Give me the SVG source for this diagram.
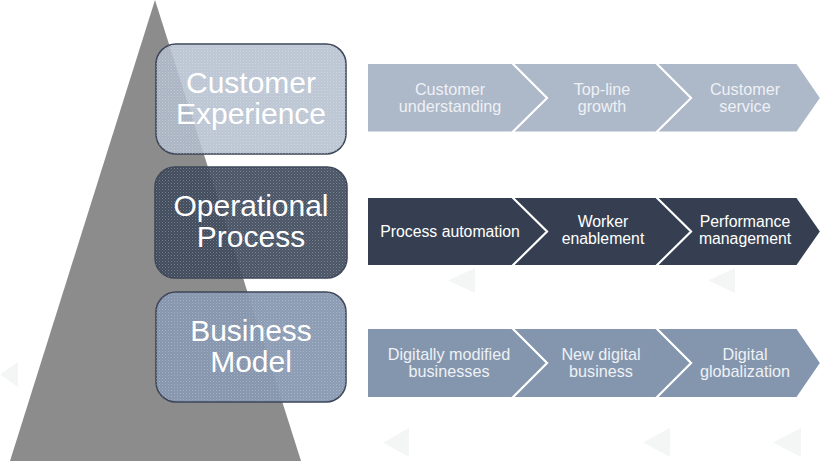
<svg xmlns="http://www.w3.org/2000/svg" width="821" height="465" viewBox="0 0 821 465">
<defs>
<style>
.big{font-family:"Liberation Sans",Arial,sans-serif;font-size:30px;fill:#ffffff;text-anchor:middle}
.sm{font-family:"Liberation Sans",Arial,sans-serif;font-size:16.2px;fill:#eef1f5;text-anchor:middle}
.sm2{font-family:"Liberation Sans",Arial,sans-serif;font-size:15.8px;fill:#ffffff;text-anchor:middle}
.box{stroke:#3a4456;stroke-width:1.5}
.chev{stroke:#ffffff;stroke-width:2;stroke-linejoin:miter}
.ghost{fill:#f4f5f5}
</style>
<pattern id="dots" width="3" height="3" patternUnits="userSpaceOnUse">
<rect x="0" y="0" width="1" height="1" fill="#ffffff" fill-opacity="0.28"/>
<rect x="1.5" y="1.5" width="1" height="1" fill="#ffffff" fill-opacity="0.18"/>
</pattern>
</defs>
<rect width="821" height="465" fill="#ffffff"/>
<g id="ghosts">
<polygon class="ghost" points="18,362 18,387 0,374.5"/>
<polygon class="ghost" points="475,268 475,293 448,280.5"/>
<polygon class="ghost" points="735,268 735,293 708,280.5"/>
<polygon class="ghost" points="409,428 409,457 383,442.5"/>
<polygon class="ghost" points="670,428 670,457 643,442.5"/>
<polygon class="ghost" points="801,428 801,457 773,442.5"/>
</g>
<g id="pyramid">
<polygon points="155,0 301,461 10,461" fill="#8c8c8c"/>
</g>
<g id="customer-experience">
<rect class="box" x="156" y="44" width="190" height="110" rx="20" fill="#b0bccd" fill-opacity="0.85"/>
<rect x="156" y="44" width="190" height="110" rx="20" fill="url(#dots)"/>
<text class="big" x="251" y="92.5">Customer</text>
<text class="big" x="251" y="123.5">Experience</text>
</g>
<g id="operational-process">
<rect class="box" x="155" y="167" width="192" height="111" rx="20" fill="#3b4659" fill-opacity="0.92"/>
<rect x="155" y="167" width="192" height="111" rx="20" fill="url(#dots)"/>
<text class="big" x="251" y="216">Operational</text>
<text class="big" x="251" y="247">Process</text>
</g>
<g id="business-model">
<rect class="box" x="156" y="292" width="190" height="110" rx="20" fill="#8596af" fill-opacity="0.95"/>
<rect x="156" y="292" width="190" height="110" rx="20" fill="url(#dots)"/>
<text class="big" x="251" y="341">Business</text>
<text class="big" x="251" y="371.5">Model</text>
</g>
<g id="row-customer" fill="#adb8c9">
<polygon class="chev" points="797,63 821,98 797,132.5 656,132.5 691,98 656,63"/>
<polygon class="chev" points="512,63 656,63 691,98 656,132.5 512,132.5 547,98"/>
<polygon class="chev" points="367,63 512,63 547,98 512,132.5 367,132.5"/>
<text class="sm" x="450" y="94.5">Customer</text>
<text class="sm" x="450" y="111.5">understanding</text>
<text class="sm" x="602" y="94.5">Top-line</text>
<text class="sm" x="602" y="111.5">growth</text>
<text class="sm" x="745" y="94.5">Customer</text>
<text class="sm" x="745" y="111.5">service</text>
</g>
<g id="row-operational" fill="#353f51">
<polygon class="chev" points="797,197 821,231.5 797,266 656,266 691,231.5 656,197"/>
<polygon class="chev" points="512,197 656,197 691,231.5 656,266 512,266 547,231.5"/>
<polygon class="chev" points="367,197 512,197 547,231.5 512,266 367,266"/>
<text class="sm2" x="450" y="236.5">Process automation</text>
<text class="sm2" x="603" y="227">Worker</text>
<text class="sm2" x="603" y="244">enablement</text>
<text class="sm2" x="745" y="227">Performance</text>
<text class="sm2" x="745" y="244">management</text>
</g>
<g id="row-business" fill="#8496ae">
<polygon class="chev" points="797,328 821,363 797,398 656,398 691,363 656,328"/>
<polygon class="chev" points="512,328 656,328 691,363 656,398 512,398 547,363"/>
<polygon class="chev" points="367,328 512,328 547,363 512,398 367,398"/>
<text class="sm" x="449" y="359.5">Digitally modified</text>
<text class="sm" x="449" y="376.5">businesses</text>
<text class="sm" x="601" y="359.5">New digital</text>
<text class="sm" x="601" y="376.5">business</text>
<text class="sm" x="745" y="359.5">Digital</text>
<text class="sm" x="745" y="376.5">globalization</text>
</g>
</svg>
